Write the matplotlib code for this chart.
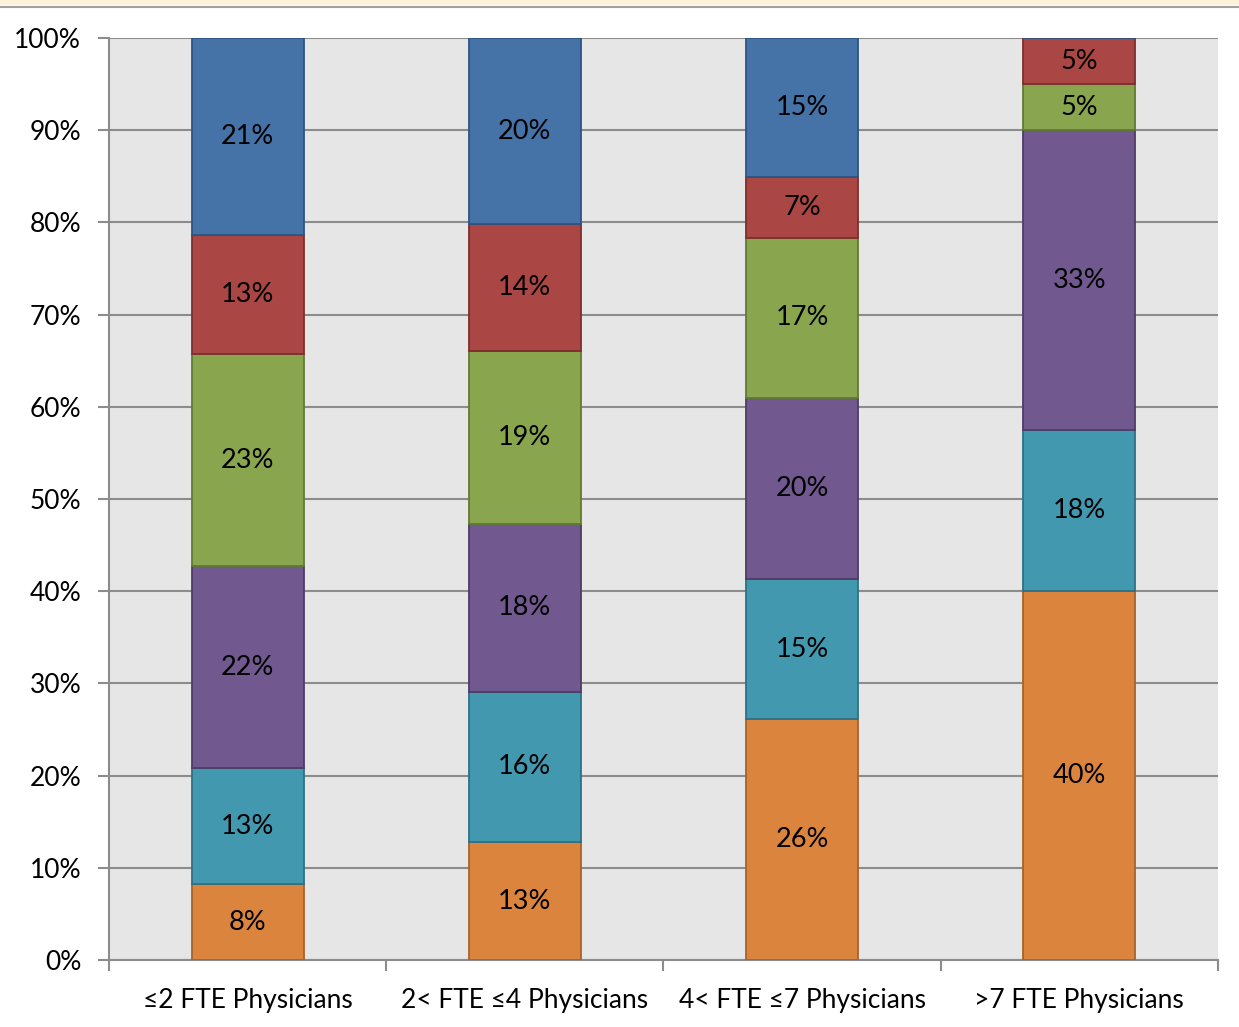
import numpy as np
import matplotlib
matplotlib.use("Agg")
import matplotlib.pyplot as plt

plt.rcParams["font.family"] = ["Lato", "DejaVu Sans"]

CATEGORIES = ["≤2 FTE Physicians", "2< FTE ≤4 Physicians",
              "4< FTE ≤7 Physicians", ">7 FTE Physicians"]

# segment shares per category, bottom to top
ORANGE = [8.2, 12.8, 26.1, 40.0]
TEAL = [12.6, 16.3, 15.2, 17.5]
PURPLE = [21.9, 18.2, 19.7, 32.5]
GREEN = [23.0, 18.8, 17.3, 5.0]
RED = [12.9, 13.7, 6.6, 5.0]
BLUE = [21.4, 20.2, 15.1, 0.0]

SERIES = [ORANGE, TEAL, PURPLE, GREEN, RED, BLUE]
FILLS = ["#DB843D", "#4198AF", "#71588F", "#89A54E", "#AA4643", "#4572A7"]
EDGES = ["#A8622A", "#2E7186", "#4E3C66", "#5F7A33", "#7E2E2C", "#2E5482"]

YTICKS = list(range(0, 101, 10))


def main():
    fig = plt.figure(figsize=(12.39, 10.27), dpi=100)
    # thin banner at the top of the slide
    fig.patches.append(plt.Rectangle((0, 0.996), 1, 0.004, transform=fig.transFigure,
                                     color="#FBF3D9", zorder=0))
    fig.lines.append(plt.Line2D([0, 1], [0.9935, 0.9935], transform=fig.transFigure,
                                color="#A0A0A0", lw=1.5))

    ax = fig.add_axes([0.088, 0.0652, 0.895, 0.8978])
    ax.set_facecolor("#E6E6E6")

    x = np.arange(len(CATEGORIES))
    bottom = np.zeros(len(CATEGORIES))
    for vals, fc, ec in zip(SERIES, FILLS, EDGES):
        vals = np.array(vals)
        ax.bar(x, vals, bottom=bottom, width=0.405, color=fc, edgecolor=ec,
               linewidth=1.3, zorder=3)
        for xi, b, v in zip(x, bottom, vals):
            if v > 0:
                ax.text(xi, b + v / 2, f"{int(v + 0.5)}%", ha="center", va="center",
                        fontsize=19.5, color="black", zorder=4)
        bottom += vals

    ax.set_xlim(-0.5, len(CATEGORIES) - 0.5)
    ax.set_ylim(0, 100)
    ax.set_yticks(YTICKS)
    ax.set_yticklabels([f"{t}%" for t in YTICKS], fontsize=19)
    ax.yaxis.grid(True, color="#8C8C8C", linewidth=1.5, zorder=0)
    ax.set_axisbelow(True)

    ax.set_xticks(np.arange(-0.5, len(CATEGORIES), 1.0))
    ax.set_xticklabels([])
    ax.set_xticks(x, minor=True)
    ax.set_xticklabels(CATEGORIES, minor=True, fontsize=19)
    ax.tick_params(axis="x", which="minor", length=0, pad=20)
    ax.tick_params(axis="x", which="major", length=8, width=1.5, color="#8C8C8C",
                   direction="out")
    ax.tick_params(axis="y", length=8, width=1.5, color="#8C8C8C", pad=12)

    for side in ["top", "right"]:
        ax.spines[side].set_visible(False)
    for side in ["left", "bottom"]:
        ax.spines[side].set_color("#8C8C8C")
        ax.spines[side].set_linewidth(1.5)

    fig.savefig("out.png", dpi=100)


if __name__ == "__main__":
    main()
